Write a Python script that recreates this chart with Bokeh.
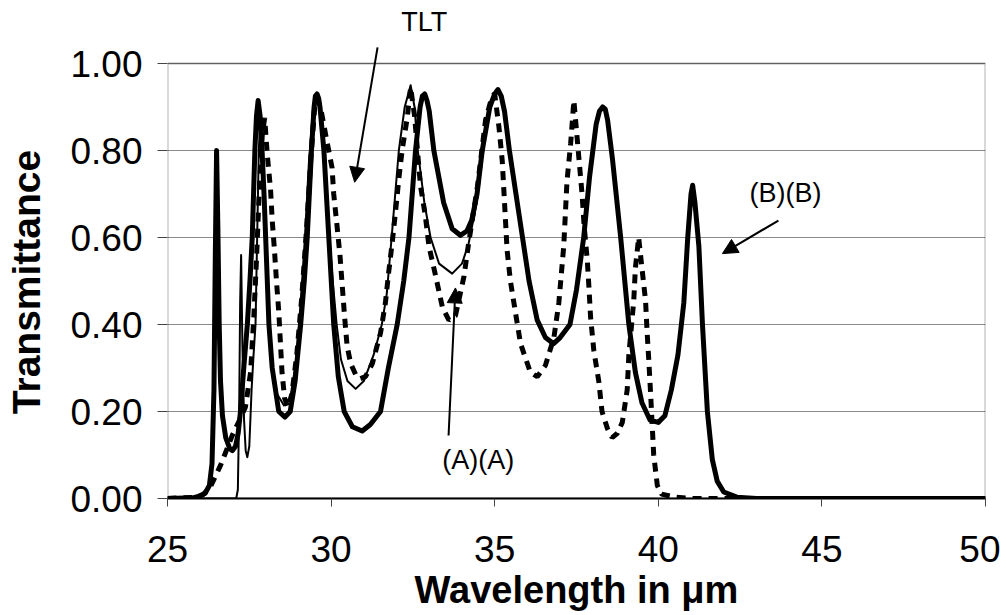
from bokeh.plotting import figure
from bokeh.models import (FixedTicker, PrintfTickFormatter, Range1d, Label,
                          Arrow, NormalHead, BoxAnnotation)
from bokeh.embed import file_html
from bokeh.resources import INLINE

# ---------------- data ----------------
x_ticks = [25, 30, 35, 40, 45, 50]
y_ticks = [0.0, 0.2, 0.4, 0.6, 0.8, 1.0]

# thick solid (B)(B)
wl_b = [25.0, 25.8, 26.0, 26.15, 26.28, 26.36, 26.42, 26.46, 26.5, 26.54, 26.58,
        26.62, 26.68, 26.78, 26.9, 26.98, 27.08, 27.16, 27.23, 27.33, 27.44, 27.52,
        27.59, 27.67, 27.72, 27.77, 27.83, 27.89, 27.95, 28.0, 28.1, 28.2, 28.4,
        28.59, 28.75, 28.9, 29.07, 29.18, 29.27, 29.4, 29.48, 29.52, 29.57, 29.62,
        29.66, 29.78, 29.93, 30.08, 30.22, 30.4, 30.65, 30.95, 31.2, 31.51, 31.75,
        32.02, 32.22, 32.38, 32.58, 32.72, 32.79, 32.86, 32.93, 33.0, 33.14, 33.44,
        33.7, 33.95, 34.15, 34.3, 34.46, 34.62, 34.85, 35.0, 35.1, 35.2, 35.3,
        35.45, 35.65, 35.85, 36.05, 36.3, 36.55, 36.8, 37.0, 37.3, 37.5, 37.72,
        37.9, 38.1, 38.2, 38.3, 38.38, 38.45, 38.6, 38.85, 39.1, 39.3, 39.5, 39.75,
        40.0, 40.2, 40.4, 40.6, 40.78, 40.9, 41.0, 41.05, 41.12, 41.24, 41.35, 41.5,
        41.65, 41.8, 42.0, 42.4, 43.0, 50.0]
t_b = [0.0, 0.002, 0.006, 0.012, 0.03, 0.08, 0.25, 0.55, 0.80, 0.62, 0.40,
       0.27, 0.19, 0.14, 0.115, 0.11, 0.12, 0.15, 0.20, 0.30, 0.40, 0.50,
       0.60, 0.80, 0.88, 0.915, 0.88, 0.80, 0.70, 0.60, 0.40, 0.30, 0.20,
       0.187, 0.20, 0.27, 0.40, 0.50, 0.60, 0.80, 0.90, 0.925, 0.93, 0.92,
       0.90, 0.80, 0.60, 0.40, 0.28, 0.20, 0.165, 0.155, 0.17, 0.20, 0.30,
       0.40, 0.50, 0.60, 0.80, 0.90, 0.925, 0.93, 0.915, 0.89, 0.80, 0.68,
       0.62, 0.605, 0.615, 0.64, 0.70, 0.80, 0.90, 0.93, 0.94, 0.925, 0.89,
       0.80, 0.70, 0.60, 0.50, 0.41, 0.37, 0.356, 0.37, 0.40, 0.48, 0.60,
       0.74, 0.86, 0.89, 0.90, 0.895, 0.87, 0.78, 0.60, 0.40, 0.29, 0.22, 0.18,
       0.175, 0.19, 0.25, 0.33, 0.45, 0.60, 0.70, 0.72, 0.68, 0.58, 0.40, 0.20,
       0.09, 0.04, 0.015, 0.003, 0.0, 0.0]

# thin solid (A)(A)
wl_a = [25.0, 27.1, 27.15, 27.19, 27.22, 27.25, 27.29, 27.34, 27.39, 27.44, 27.5,
        27.57, 27.63, 27.69, 27.74, 27.79, 27.84, 27.9, 27.96, 28.05, 28.17, 28.35,
        28.56, 28.75, 28.92, 29.07, 29.2, 29.32, 29.45, 29.55, 29.65, 29.77, 29.92,
        30.05, 30.17, 30.3, 30.5, 30.75, 31.0, 31.3, 31.55, 31.7, 31.85, 32.07,
        32.25, 32.43, 32.55, 32.65, 32.85, 33.04, 33.3, 33.7, 34.0, 34.2, 34.45,
        34.62, 34.85, 35.1]
t_a = [0.0, 0.0, 0.02, 0.20, 0.45, 0.56, 0.35, 0.18, 0.11, 0.095, 0.12,
       0.25, 0.33, 0.40, 0.60, 0.80, 0.877, 0.80, 0.65, 0.45, 0.32, 0.24,
       0.214, 0.23, 0.31, 0.45, 0.60, 0.77, 0.90, 0.93, 0.90, 0.80, 0.63,
       0.50, 0.40, 0.32, 0.27, 0.252, 0.27, 0.33, 0.40, 0.47, 0.60, 0.80,
       0.90, 0.95, 0.90, 0.80, 0.68, 0.60, 0.54, 0.517, 0.54, 0.585, 0.68,
       0.80, 0.90, 0.94]

# dotted TLT
wl_tlt = [25.0, 25.9, 26.1, 26.3, 26.62, 26.98, 27.2, 27.38, 27.54, 27.64, 27.72,
          27.8, 27.9, 27.97, 28.05, 28.15, 28.2, 28.27, 28.33, 28.4, 28.45, 28.5,
          28.58, 28.68, 28.8, 28.95, 29.1, 29.25, 29.38, 29.5, 29.58, 29.7, 29.85,
          30.03, 30.08, 30.17, 30.27, 30.34, 30.41, 30.49, 30.6, 30.75, 30.88, 31.05,
          31.26, 31.51, 31.66, 31.76, 31.87, 31.97, 32.07, 32.17, 32.33, 32.43, 32.55,
          32.73, 32.88, 32.99, 33.2, 33.4, 33.6, 33.8, 34.06, 34.2, 34.47, 34.72,
          34.92, 35.0, 35.13, 35.23, 35.28, 35.38, 35.48, 35.64, 35.79, 36.09, 36.3,
          36.55, 36.81, 36.96, 37.11, 37.21, 37.32, 37.42, 37.57, 37.67, 37.73, 37.83,
          37.88, 37.93, 38.03, 38.18, 38.28, 38.45, 38.59, 38.75, 38.9, 39.05, 39.1,
          39.25, 39.3, 39.4, 39.5, 39.61, 39.66, 39.71, 39.76, 39.86, 39.97, 40.1,
          40.5, 41.0, 50.0]
t_tlt = [0.0, 0.003, 0.01, 0.025, 0.076, 0.145, 0.18, 0.21, 0.29, 0.42, 0.55,
         0.70, 0.84, 0.875, 0.79, 0.71, 0.64, 0.57, 0.50, 0.43, 0.36, 0.29,
         0.23, 0.21, 0.24, 0.33, 0.46, 0.62, 0.78, 0.90, 0.92, 0.89, 0.83,
         0.76, 0.70, 0.635, 0.56, 0.49, 0.42, 0.35, 0.31, 0.285, 0.275, 0.28,
         0.31, 0.38, 0.45, 0.52, 0.59, 0.66, 0.735, 0.80, 0.877, 0.945, 0.88,
         0.72, 0.65, 0.58, 0.51, 0.44, 0.41, 0.42, 0.51, 0.585, 0.716, 0.87,
         0.925, 0.93, 0.854, 0.777, 0.708, 0.57, 0.50, 0.425, 0.356, 0.29, 0.28,
         0.306, 0.37, 0.45, 0.58, 0.73, 0.815, 0.915, 0.785, 0.70, 0.63, 0.547,
         0.486, 0.417, 0.34, 0.27, 0.20, 0.16, 0.14, 0.15, 0.175, 0.25, 0.33,
         0.455, 0.53, 0.60, 0.53, 0.455, 0.38, 0.317, 0.248, 0.10, 0.03, 0.01,
         0.003, 0.0, 0.0]

FONT = "Liberation Sans"
Y_TOP = 1.0 + 63.0 / 435.0   # headroom above the 1.00 frame line for the TLT callout

p = figure(width=1000, height=615, x_range=Range1d(25, 50), y_range=Range1d(0, Y_TOP),
           output_backend="svg", toolbar_location=None,
           min_border_left=167, min_border_right=15, min_border_top=0,
           min_border_bottom=117)
p.background_fill_color = "white"
p.border_fill_color = "white"
p.outline_line_color = None

# lines
p.line(wl_a, t_a, line_color="black", line_width=2, line_join="round")
p.line(wl_tlt, t_tlt, line_color="black", line_width=5, line_dash="9 7")
p.line(wl_b, t_b, line_color="black", line_width=5, line_join="round")

# plot-area box (0..1)
p.add_layout(BoxAnnotation(left=25, right=50, bottom=0, top=1,
                           fill_color=None, line_color="black", line_width=2))

# axes
p.xaxis.ticker = FixedTicker(ticks=x_ticks)
p.yaxis.ticker = FixedTicker(ticks=y_ticks)
p.yaxis.formatter = PrintfTickFormatter(format="%.2f")
p.xaxis.formatter = PrintfTickFormatter(format="%d")
for ax in (p.xaxis, p.yaxis):
    ax.major_label_text_font = FONT
    ax.major_label_text_font_size = "37px"
    ax.major_label_text_color = "black"
    ax.axis_label_text_font = FONT
    ax.axis_label_text_font_style = "bold"
    ax.axis_label_text_color = "black"
    ax.major_tick_line_color = "#444444"
    ax.major_tick_in = 0
    ax.minor_tick_line_color = None
p.xaxis.axis_line_color = "black"
p.xaxis.axis_line_width = 2
p.yaxis.axis_line_color = None
p.xaxis.major_tick_out = 8
p.yaxis.major_tick_out = 10
p.xaxis.major_label_standoff = 29
p.yaxis.major_label_standoff = 15
p.xaxis.axis_label = "Wavelength in \u03bcm"
p.yaxis.axis_label = "Transmittance" + "\u00a0" * 6
p.xaxis.axis_label_text_font_size = "38px"
p.yaxis.axis_label_text_font_size = "39px"
p.xaxis.axis_label_standoff = 4
p.yaxis.axis_label_standoff = 19

p.xgrid.grid_line_color = None
p.ygrid.grid_line_color = "#8a8a8a"
p.ygrid.grid_line_width = 1

# annotations
p.add_layout(Label(x=32.85, y=1.062, text="TLT", text_align="center",
                   text_font=FONT, text_font_size="27px", text_color="black"))
p.add_layout(Label(x=34.5, y=0.055, text="(A)(A)", text_align="center",
                   text_font=FONT, text_font_size="27px", text_color="black"))
p.add_layout(Label(x=43.89, y=0.667, text="(B)(B)", text_align="center",
                   text_font=FONT, text_font_size="27px", text_color="black"))

def arrow(x0, y0, x1, y1):
    p.add_layout(Arrow(end=NormalHead(size=15, fill_color="black", line_color="black"),
                       x_start=x0, y_start=y0, x_end=x1, y_end=y1,
                       line_color="black", line_width=2))

arrow(31.42, 1.037, 30.72, 0.727)
arrow(33.59, 0.145, 33.80, 0.484)
arrow(43.67, 0.639, 41.96, 0.563)

open("out.html", "w").write(file_html(p, INLINE))
